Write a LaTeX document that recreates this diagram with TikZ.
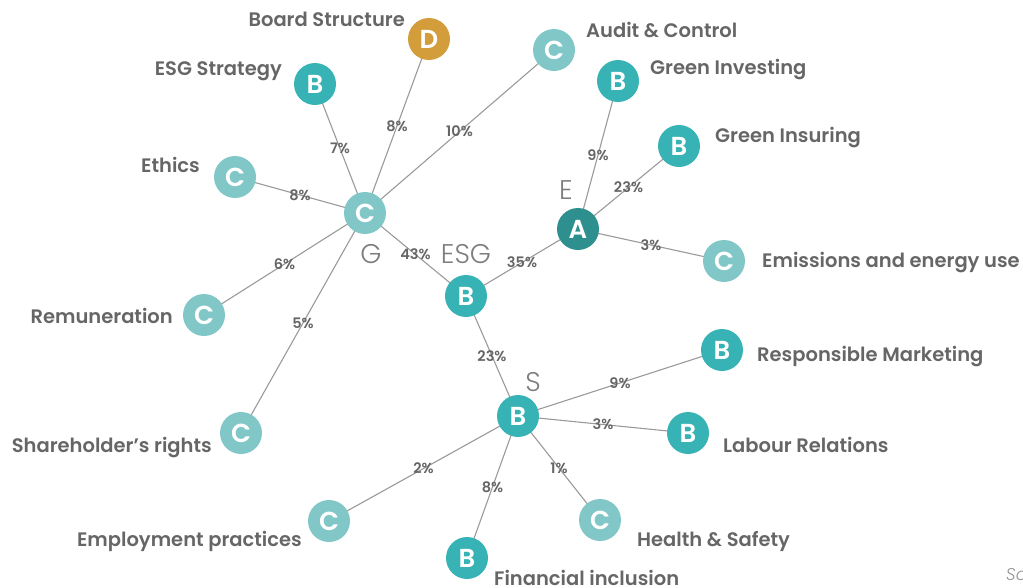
\documentclass[tikz,border=0pt]{standalone}
\usepackage{fontspec}
\setmainfont{Poppins}[BoldFont={Poppins SemiBold}]
\newfontfamily\pillarfont{Poppins Light}
\usetikzlibrary{backgrounds}

\definecolor{gradeA}{HTML}{2E8F8F}
\definecolor{gradeB}{HTML}{38B3B5}
\definecolor{gradeC}{HTML}{82C7C8}
\definecolor{gradeD}{HTML}{D49D3B}
\definecolor{txtgray}{HTML}{666666}
\definecolor{linegray}{HTML}{9A9A9A}

\tikzset{
	grade/.style={circle, minimum size=42pt, inner sep=0pt, text=white,
		font=\fontsize{26}{26}\selectfont\bfseries},
	gA/.style={grade, fill=gradeA},
	gB/.style={grade, fill=gradeB},
	gC/.style={grade, fill=gradeC},
	gD/.style={grade, fill=gradeD},
	itemtext/.style={text=txtgray, inner sep=0pt, font=\fontsize{19.5}{19.5}\selectfont\bfseries},
	pct/.style={midway, text=txtgray, inner sep=0pt, font=\fontsize{14.5}{14.5}\selectfont\bfseries},
	pillar/.style={text=txtgray!85, inner sep=0pt, anchor=base, font=\fontsize{27}{27}\selectfont\pillarfont},
	link/.style={draw=linegray, line width=1.1pt}
}

\begin{document}
\begin{tikzpicture}[x=1pt, y=-1pt]
	\useasboundingbox (0,0) rectangle (1023,587);
	% pillars
	\node[gB] (esg) at (466,296) {B};
	\node[gC] (gov) at (365,213) {C};
	\node[gA] (env) at (578,229) {A};
	\node[gB] (soc) at (518,416) {B};
	% governance
	\node[gD] (board) at (429,39) {D};
	\node[gB] (strat) at (315,84) {B};
	\node[gC] (audit) at (554,50) {C};
	\node[gC] (ethics) at (235,177) {C};
	\node[gC] (remun) at (204,315) {C};
	\node[gC] (share) at (241,433) {C};
	% environment
	\node[gB] (greeninv) at (618,81) {B};
	\node[gB] (greenins) at (679,146) {B};
	\node[gC] (emis) at (724,261) {C};
	% social
	\node[gB] (market) at (722,350) {B};
	\node[gB] (labour) at (688,433) {B};
	\node[gC] (health) at (600,520) {C};
	\node[gB] (fininc) at (467,558) {B};
	\node[gC] (employ) at (329,521) {C};

	\begin{scope}[on background layer]
		\foreach \a/\b/\p in {esg/gov/43, esg/env/35, esg/soc/23,
			gov/board/8, gov/strat/7, gov/audit/10, gov/ethics/8, gov/remun/6, gov/share/5,
			env/greeninv/9, env/greenins/23, env/emis/3,
			soc/market/9, soc/labour/3, soc/health/1, soc/fininc/8, soc/employ/2}
			\draw[link] (\a.center) -- node[pct] {\p\%} (\b.center);
	\end{scope}

	% pillar names
	\node[pillar] (esgname) at (466,263) {ESG};
	\node[pillar] (govname) at (371,263) {G};
	\node[pillar] (envname) at (566,199) {E};
	\node[pillar] (socname) at (533,391) {S};

	% item names
	\node[itemtext, anchor=base east] (boardlbl) at (405,26) {Board Structure};
	\node[itemtext, anchor=base east] (stratlbl) at (282,75) {ESG Strategy};
	\node[itemtext, anchor=base west] (auditlbl) at (586,37) {Audit \& Control};
	\node[itemtext, anchor=base east] (ethicslbl) at (200,172) {Ethics};
	\node[itemtext, anchor=base east] (remunlbl) at (173,323) {Remuneration};
	\node[itemtext, anchor=base east] (sharelbl) at (212,452) {Shareholder’s rights};
	\node[itemtext, anchor=base west] (greeninvlbl) at (650,74) {Green Investing};
	\node[itemtext, anchor=base west] (greeninslbl) at (715,142) {Green Insuring};
	\node[itemtext, anchor=base west] (emislbl) at (762,267) {Emissions and energy use};
	\node[itemtext, anchor=base west] (marketlbl) at (757,361) {Responsible Marketing};
	\node[itemtext, anchor=base west] (labourlbl) at (723,452) {Labour Relations};
	\node[itemtext, anchor=base west] (healthlbl) at (637,546) {Health \& Safety};
	\node[itemtext, anchor=base west] (fininclbl) at (494,585) {Financial inclusion};
	\node[itemtext, anchor=base east] (employlbl) at (302,546) {Employment practices};

	\node[text=txtgray!70, inner sep=0pt, anchor=base west, font=\fontsize{17}{17}\selectfont\pillarfont\itshape] (src) at (1006,580) {So};
\end{tikzpicture}
\end{document}
